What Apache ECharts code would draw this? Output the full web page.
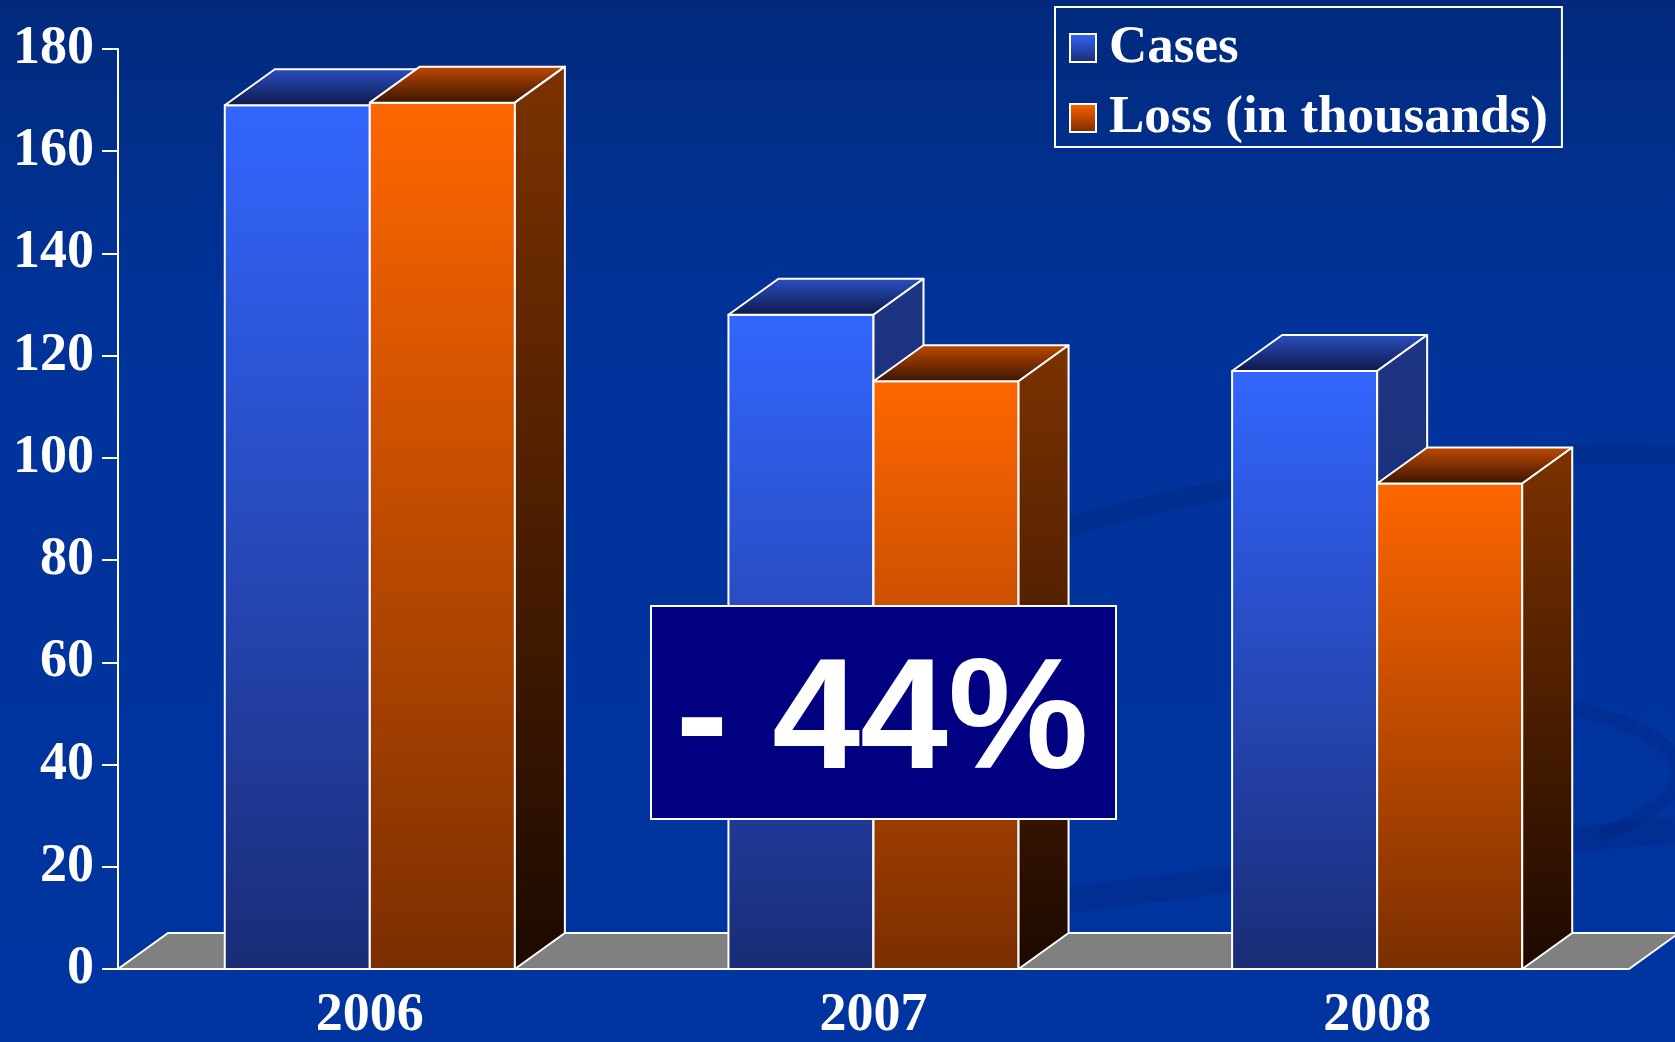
<!DOCTYPE html>
<html>
<head>
<meta charset="utf-8">
<title>Cases and loss</title>
<script src="https://cdn.jsdelivr.net/npm/echarts@6/dist/echarts.min.js"></script>
<style>
  html, body { margin: 0; padding: 0; background: #0033a0; }
  #main { width: 1675px; height: 1042px; }
</style>
</head>
<body>
<div id="main"></div>
<script>
// data
var years = ['2006', '2007', '2008'];
var cases = [169, 128, 117];
var loss = [169.5, 115, 95];
var yTicks = [0, 20, 40, 60, 80, 100, 120, 140, 160, 180];
var changeText = '- 44%';

var DX = 50, DY = -36;        // depth of the 3d boxes
var BAR_SHARE = 0.288;        // share of the band one bar takes
var serif = "'Liberation Serif', 'DejaVu Serif', serif";

function grad(c1, c2) {
    return new echarts.graphic.LinearGradient(0, 0, 0, 1, [
        { offset: 0, color: c1 }, { offset: 1, color: c2 }
    ]);
}

var faces = {
    cases: {
        front: ['#3366ff', '#1a2c76'],
        top: ['#2a50c2', '#0e1848'],
        side: ['#1e3584', '#16265e']
    },
    loss: {
        front: ['#ff6600', '#7a2e00'],
        top: ['#c04a00', '#3a1400'],
        side: ['#7c3200', '#1c0900']
    }
};

function boxRenderer(key, left) {
    var f = faces[key];
    return function (params, api) {
        var idx = api.value(0), val = api.value(1);
        var base = api.coord([idx, 0]);
        var top = api.coord([idx, val]);
        var barW = api.size([1, 0])[0] * BAR_SHARE;
        var x0 = left ? base[0] - barW : base[0];
        var x1 = x0 + barW;
        var ty = top[1], by = base[1];
        var line = { stroke: '#ffffff', lineWidth: 2, lineJoin: 'round' };
        return {
            type: 'group',
            children: [
                {
                    type: 'rect',
                    shape: { x: x0, y: ty, width: barW, height: by - ty },
                    style: Object.assign({ fill: grad(f.front[0], f.front[1]) }, line)
                },
                {
                    type: 'polygon',
                    shape: { points: [[x0, ty], [x0 + DX, ty + DY], [x1 + DX, ty + DY], [x1, ty]] },
                    style: Object.assign({ fill: grad(f.top[0], f.top[1]) }, line)
                },
                {
                    type: 'polygon',
                    shape: { points: [[x1, ty], [x1 + DX, ty + DY], [x1 + DX, by + DY], [x1, by]] },
                    style: Object.assign({ fill: grad(f.side[0], f.side[1]) }, line)
                }
            ]
        };
    };
}

function pairs(arr) {
    return arr.map(function (v, i) { return [i, v]; });
}

var chart = echarts.init(document.getElementById('main'));

var swirl = 'rgba(0, 25, 100, 0.2)';

var option = {
    backgroundColor: new echarts.graphic.LinearGradient(0, 0, 0, 1, [
        { offset: 0, color: '#012a7c' },
        { offset: 0.3, color: '#00339a' },
        { offset: 1, color: '#0034a0' }
    ]),
    animation: false,
    grid: { left: 118, right: 46, top: 49, bottom: 73, outerBoundsMode: 'none' },
    legend: {
        data: ['Cases', 'Loss (in thousands)'],
        orient: 'vertical',
        left: 1055,
        top: 7,
        padding: [12, 14, 0, 14],
        borderColor: '#ffffff',
        borderWidth: 2,
        icon: 'rect',
        itemWidth: 26,
        itemHeight: 28,
        itemGap: 12,
        itemStyle: { borderColor: '#ffffff', borderWidth: 2 },
        textStyle: {
            color: '#ffffff', fontFamily: serif, fontWeight: 'bold',
            fontSize: 53, lineHeight: 58, padding: [0, 0, 0, 8]
        },
        selectedMode: false
    },
    xAxis: {
        type: 'category',
        data: years,
        axisLine: { show: false },
        axisTick: { show: false },
        axisLabel: { color: '#ffffff', fontFamily: serif, fontWeight: 'bold', fontSize: 54, margin: 20 }
    },
    yAxis: {
        type: 'value',
        min: yTicks[0],
        max: yTicks[yTicks.length - 1],
        interval: yTicks[1] - yTicks[0],
        axisLine: { show: true, lineStyle: { color: '#ffffff', width: 2 } },
        axisTick: { show: true, inside: false, length: 16, lineStyle: { color: '#ffffff', width: 2 } },
        splitLine: { show: false },
        axisLabel: { color: '#ffffff', fontFamily: serif, fontWeight: 'bold', fontSize: 54, margin: 24 }
    },
    series: [
        {
            name: 'floor',
            type: 'custom',
            silent: true,
            z: 1,
            data: [[0, 0]],
            renderItem: function (params, api) {
                var cs = params.coordSys;
                var y = cs.y + cs.height;
                return {
                    type: 'polygon',
                    shape: { points: [[cs.x, y], [cs.x + DX, y + DY], [cs.x + cs.width + DX, y + DY], [cs.x + cs.width, y]] },
                    style: { fill: '#808080', stroke: '#ffffff', lineWidth: 2 }
                };
            }
        },
        {
            name: 'Cases',
            type: 'custom',
            z: 2,
            itemStyle: { color: grad('#3366ff', '#1a2a70') },
            data: pairs(cases),
            renderItem: boxRenderer('cases', true)
        },
        {
            name: 'Loss (in thousands)',
            type: 'custom',
            z: 3,
            itemStyle: { color: grad('#ff6600', '#7a2800') },
            data: pairs(loss),
            renderItem: boxRenderer('loss', false)
        }
    ],
    graphic: [
        // faint background swirls
        {
            type: 'bezierCurve', silent: true, z: -10,
            shape: { x1: 1060, y1: 530, x2: 1675, y2: 455, cpx1: 1250, cpy1: 470, cpx2: 1500, cpy2: 450 },
            style: { stroke: swirl, lineWidth: 20, fill: null }
        },
        {
            type: 'bezierCurve', silent: true, z: -10,
            shape: { x1: 1070, y1: 900, x2: 1675, y2: 830, cpx1: 1300, cpy1: 870, cpx2: 1500, cpy2: 845 },
            style: { stroke: swirl, lineWidth: 26, fill: null }
        },
        {
            type: 'bezierCurve', silent: true, z: -10,
            shape: { x1: 1560, y1: 705, x2: 1600, y2: 835, cpx1: 1700, cpy1: 735, cpx2: 1720, cpy2: 790 },
            style: { stroke: swirl, lineWidth: 14, fill: null }
        },
        {
            type: 'rect',
            z: 100,
            left: 650,
            top: 605,
            shape: { width: 465, height: 213 },
            style: { fill: '#000080', stroke: '#ffffff', lineWidth: 2 }
        },
        {
            type: 'text',
            z: 101,
            x: 882,
            y: 724,
            style: {
                text: changeText,
                fill: '#ffffff',
                font: "bold 158px 'Liberation Sans', Arial, sans-serif",
                align: 'center',
                verticalAlign: 'middle'
            }
        }
    ]
};

chart.setOption(option);
</script>
</body>
</html>
